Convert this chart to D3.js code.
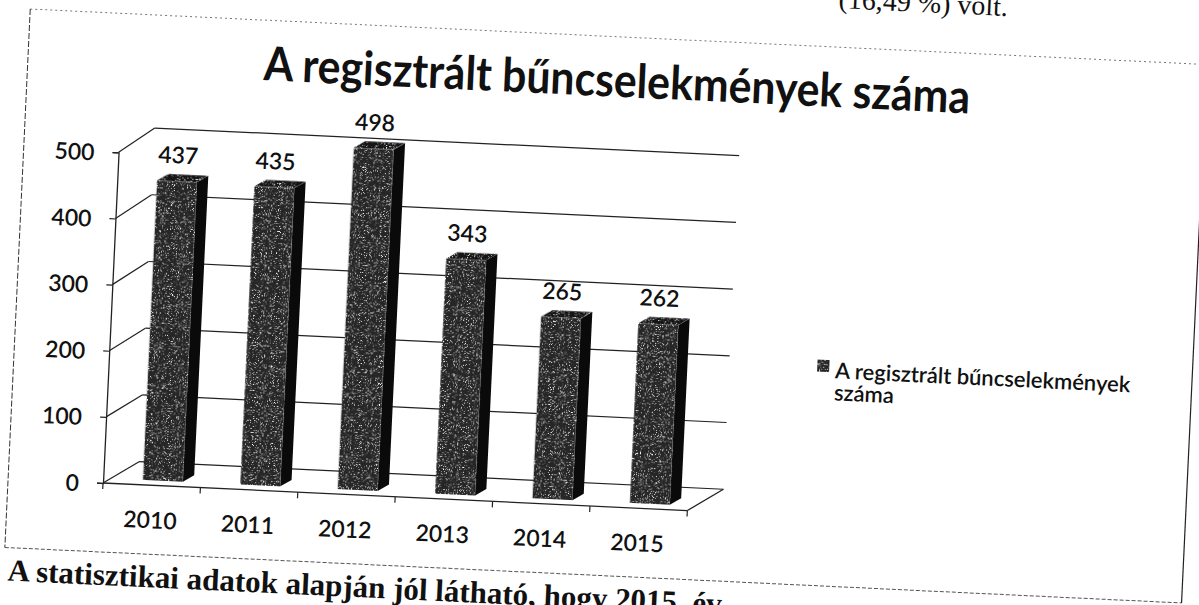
<!DOCTYPE html>
<html><head><meta charset="utf-8">
<script src="https://cdn.jsdelivr.net/npm/d3@7"></script>
<style>html,body{margin:0;padding:0;background:#fff;} svg{display:block}</style>
</head><body>
<script>
// ---- data ----
const years = ["2010", "2011", "2012", "2013", "2014", "2015"];
const values = [437, 435, 498, 343, 265, 262];
const yTicks = [0, 100, 200, 300, 400, 500];
const titleText = "A regisztrált bűncselekmények száma";
const legendLines = ["A regisztrált bűncselekmények", "száma"];
const topText = "(16,49 %) volt.";
const bottomText = "A statisztikai adatok alapján jól látható, hogy 2015. év";

const W = 1199, H = 605;
const svg = d3.select("body").append("svg").attr("width", W).attr("height", H);
const defs = svg.append("defs");
const f = defs.append("filter").attr("id", "speckle")
  .attr("x", "0%").attr("y", "0%").attr("width", "100%").attr("height", "100%")
  .attr("color-interpolation-filters", "sRGB");
f.append("feTurbulence").attr("type", "fractalNoise").attr("baseFrequency", 1.4)
  .attr("numOctaves", 1).attr("seed", 7).attr("result", "n");
f.append("feColorMatrix").attr("in", "n").attr("type", "matrix")
  .attr("values", "0 0 0 0 1  0 0 0 0 1  0 0 0 0 1  7 0 0 0 -4.0").attr("result", "dots");
f.append("feComposite").attr("in", "dots").attr("in2", "SourceGraphic").attr("operator", "atop");

// whole scanned page is slightly rotated
const g = svg.append("g").attr("transform", "rotate(2.7,103,483)");

const font = "Lato, 'Open Sans', sans-serif";
const ink = "#111";

// frame
g.append("line").attr("x1", 8).attr("y1", 13).attr("x2", 1186).attr("y2", 13)
  .attr("stroke", "#777").attr("stroke-width", 1).attr("stroke-dasharray", "2,3");
g.append("line").attr("x1", 8).attr("y1", 13).attr("x2", 8).attr("y2", 552)
  .attr("stroke", "#333").attr("stroke-width", 1).attr("stroke-dasharray", "6,2");
g.append("line").attr("x1", 8).attr("y1", 552).attr("x2", 1186).attr("y2", 552)
  .attr("stroke", "#555").attr("stroke-width", 1).attr("stroke-dasharray", "4,2");
g.append("line").attr("x1", 1186).attr("y1", 160).attr("x2", 1186).attr("y2", 552)
  .attr("stroke", "#222").attr("stroke-width", 1.2);

// scales
const x0 = 103, x1 = 688, DX = 35;
const x = d3.scaleBand().domain(years).range([x0, x1]).paddingInner(0.59).paddingOuter(0.295);
const yFront = d3.scaleLinear().domain([0, 500]).range([483, 152]);
const yBack = d3.scaleLinear().domain([0, 500]).range([460, 126]);
const yBar = d3.scaleLinear().domain([0, 500]).range([478, 135]);

// back wall gridlines
g.selectAll(".grid").data(yTicks).join("line")
  .attr("x1", x0 + DX).attr("x2", x1 + DX)
  .attr("y1", d => yBack(d)).attr("y2", d => yBack(d))
  .attr("stroke", "#222").attr("stroke-width", 1.2);
// side wall diagonals
g.selectAll(".diag").data(yTicks).join("line")
  .attr("x1", x0).attr("y1", d => yFront(d))
  .attr("x2", x0 + DX).attr("y2", d => yBack(d))
  .attr("stroke", "#222").attr("stroke-width", 1.2);
// floor front & right edges
g.append("line").attr("x1", x0).attr("y1", yFront(0)).attr("x2", x1).attr("y2", yFront(0))
  .attr("stroke", "#222").attr("stroke-width", 1.3);
g.append("line").attr("x1", x1).attr("y1", yFront(0)).attr("x2", x1 + DX).attr("y2", yBack(0))
  .attr("stroke", "#222").attr("stroke-width", 1.3);
// category ticks
const bounds = years.map((d, i) => x0 + i * x.step()).concat([x1]);
g.selectAll(".xt").data(bounds).join("line")
  .attr("x1", d => d).attr("x2", d => d).attr("y1", yFront(0)).attr("y2", yFront(0) + 6)
  .attr("stroke", "#222").attr("stroke-width", 1.2);

// y axis
const yAxis = d3.axisLeft(yFront).tickValues(yTicks).tickSize(6).tickPadding(18);
const ya = g.append("g").attr("transform", `translate(${x0},0)`).call(yAxis);
ya.select(".domain").attr("stroke", "#222").attr("stroke-width", 1.3);
ya.selectAll(".tick line").attr("stroke", "#222").attr("stroke-width", 1.2);
ya.selectAll(".tick text").attr("font-family", font).attr("font-size", 23)
  .attr("font-weight", 600).attr("fill", ink).attr("dy", "0.38em");

// bars
const shift = 11, bdx = 11, bdy = -7;
const bars = g.selectAll(".bar").data(years.map((y, i) => ({ y, v: values[i] }))).join("g");
bars.append("polygon")
  .attr("points", d => {
    const fx = x(d.y) + shift, w = x.bandwidth(), t = yBar(d.v), b = yBar(0);
    return [[fx + w, t], [fx + w + bdx, t + bdy], [fx + w + bdx, b + bdy], [fx + w, b]].join(" ");
  }).attr("fill", "#0a0a0a");
bars.append("polygon")
  .attr("points", d => {
    const fx = x(d.y) + shift, w = x.bandwidth(), t = yBar(d.v);
    return [[fx, t], [fx + bdx, t + bdy], [fx + w + bdx, t + bdy], [fx + w, t]].join(" ");
  }).attr("fill", "#151515").attr("filter", "url(#speckle)");
bars.append("rect")
  .attr("x", d => x(d.y) + shift).attr("width", x.bandwidth())
  .attr("y", d => yBar(d.v)).attr("height", d => yBar(0) - yBar(d.v))
  .attr("fill", "#262626").attr("filter", "url(#speckle)");
// data labels
bars.append("text")
  .attr("x", d => x(d.y) + shift + x.bandwidth() / 2)
  .attr("y", d => yBar(d.v) - 18)
  .attr("text-anchor", "middle").attr("font-family", font).attr("font-size", 23)
  .attr("font-weight", 600).attr("fill", ink).text(d => d.v);

// category labels
g.selectAll(".xl").data(years).join("text")
  .attr("x", d => x0 + (years.indexOf(d) + 0.5) * x.step())
  .attr("y", 526).attr("text-anchor", "middle")
  .attr("font-family", font).attr("font-size", 23).attr("font-weight", 600).attr("fill", ink)
  .text(d => d);

// title
g.append("text").attr("x", 244).attr("y", 73)
  .attr("font-family", font).attr("font-size", 47).attr("font-weight", 700).attr("fill", ink)
  .attr("textLength", 707).attr("lengthAdjust", "spacingAndGlyphs")
  .text(titleText);

// legend
g.append("rect").attr("x", 811).attr("y", 326).attr("width", 12).attr("height", 12)
  .attr("fill", "#262626").attr("filter", "url(#speckle)");
g.selectAll(".lg").data(legendLines).join("text")
  .attr("x", 829).attr("y", (d, i) => 344 + i * 22)
  .attr("font-family", font).attr("font-size", 22).attr("font-weight", 600).attr("fill", ink)
  .text(d => d);

// surrounding document text (cut by the scan edges, as in the reference)
g.append("text").attr("x", 815).attr("y", -26)
  .attr("font-family", "'Liberation Serif', serif").attr("font-size", 28).attr("fill", ink)
  .text(topText);
g.append("text").attr("x", 12).attr("y", 585)
  .attr("font-family", "'Liberation Serif', serif").attr("font-size", 31).attr("font-weight", 700).attr("fill", ink)
  .text(bottomText);
</script>
</body></html>
